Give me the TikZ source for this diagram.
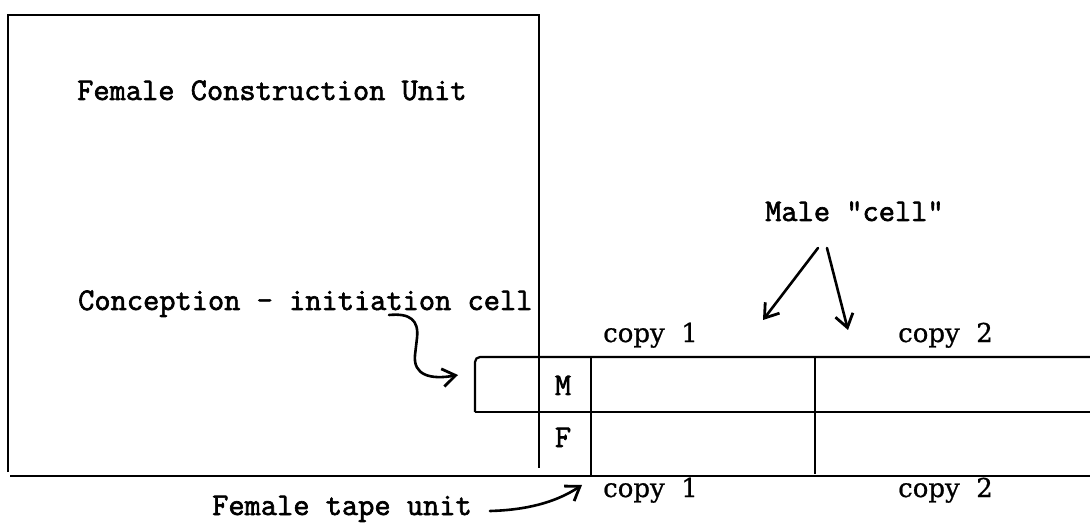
\documentclass[tikz,border=0pt]{standalone}
\usepackage{fontspec}
\newfontfamily\typer{Latin Modern Mono}[FakeBold=2]
\newfontfamily\printer{DejaVu Serif}[FakeBold=0.8]
\usetikzlibrary{arrows.meta}
\tikzset{
  x=1pt, y=-1pt,
  rule/.style={line width=2.2pt},
  hand/.style={line width=2.6pt, line cap=round,
    -{Straight Barb[length=13pt,width=18pt,line width=2.8pt]}},
  tw/.style={font=\typer\fontsize{31.5}{31.5}\selectfont, inner sep=0pt, anchor=base west},
  lbl/.style={font=\printer\fontsize{26}{26}\selectfont, inner sep=0pt, anchor=base west},
  cellmark/.style={font=\typer\fontsize{31.5}{31.5}\selectfont, inner sep=0pt, anchor=base},
}
\begin{document}
\begin{tikzpicture}
\useasboundingbox (0,0) rectangle (1090,529);

% construction unit frame
\coordinate (ftl) at (8,15);
\coordinate (ftr) at (539,15);
\coordinate (fbl) at (8,472);
\coordinate (fbr) at (539,468);
\draw[rule] (fbl) -- (ftl) -- (ftr) -- (fbr);

% base line of the female tape
\coordinate (bl) at (10,476);
\coordinate (br) at (1090,476);
\draw[rule] (bl) -- (br);

% tape rows
\coordinate (tl) at (475,357);
\coordinate (tr) at (1090,357);
\coordinate (ml) at (475,412);
\coordinate (mr) at (1090,412);
\draw[rule, rounded corners=5pt] (ml) -- (tl) -- (tr);
\draw[rule] (ml) -- (mr);

% cell dividers
\coordinate (d1t) at (591,357);
\coordinate (d1b) at (591,476);
\coordinate (d2t) at (815,357);
\coordinate (d2b) at (815,474);
\draw[rule] (d1t) -- (d1b);
\draw[line width=1.6pt] (d2t) -- (d2b);

\node[cellmark] (m) at (563,395) {M};
\node[cellmark] (f) at (563,447) {F};

% labels
\node[tw] (fcu) at (77,100) {Female Construction Unit};
\node[tw] (male) at (765,221) {Male "cell"};
\node[tw] (conc) at (78,310) {Conception - initiation cell};
\node[tw] (ftu) at (212,515) {Female tape unit};

\node[lbl] (c1t) at (603,342) {copy\ \ 1};
\node[lbl] (c2t) at (898,342) {copy\ \ 2};
\node[lbl] (c1b) at (603,497) {copy\ \ 1};
\node[lbl] (c2b) at (898,497) {copy\ \ 2};

% pointers
\coordinate (ml1) at (818,248);
\coordinate (ml2) at (827,248);
\coordinate (marr1) at (763,320);
\coordinate (marr2) at (848,330);
\draw[hand] (ml1) -- (marr1);
\draw[hand] (ml2) -- (marr2);

\coordinate (cstart) at (389,315);
\coordinate (ctip) at (458,375);
\draw[hand] (cstart) .. controls (410,313) and (419,320) .. (417,338)
  -- (415,355) .. controls (413,375) and (430,380) .. (ctip);

\coordinate (fstart) at (490,511);
\coordinate (ftip) at (582,485);
\draw[hand] (fstart) .. controls (525,510) and (555,503) .. (ftip);
\end{tikzpicture}
\end{document}
